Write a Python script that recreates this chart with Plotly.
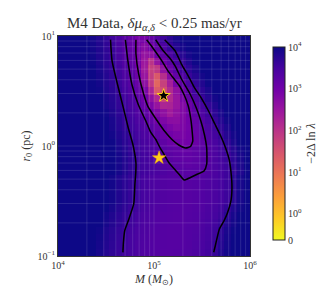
import numpy as np
import plotly.graph_objects as go

# ---------------- data ----------------
# log10(-2 Delta ln lambda) on a 30x30 grid, rows from top (r0 = 10^1) to bottom (r0 = 10^-1),
# columns from M = 10^4 to M = 10^6
log10_stat = [
    [4.2,4.2,4.2,4.2,4.2,3.92,3.8,3.68,3.56,3.43,3.3,3.12,2.94,2.94,3.14,3.35,3.57,3.73,3.89,4.04,4.2,4.2,4.2,4.2,4.2,4.2,4.2,4.2,4.2,4.2],
    [4.2,4.2,4.2,4.2,4.2,3.93,3.82,3.69,3.58,3.45,3.32,3.13,2.92,2.73,2.95,3.18,3.4,3.62,3.78,3.93,4.1,4.2,4.2,4.2,4.2,4.2,4.2,4.2,4.2,4.2],
    [4.2,4.2,4.2,4.2,4.2,3.95,3.83,3.71,3.59,3.46,3.34,3.15,2.89,2.55,2.62,3.0,3.23,3.43,3.6,3.77,3.92,4.08,4.2,4.2,4.2,4.2,4.2,4.2,4.2,4.2],
    [4.2,4.2,4.2,4.2,4.2,3.97,3.85,3.73,3.61,3.48,3.36,3.18,2.92,2.46,2.0,2.55,3.04,3.26,3.48,3.67,3.82,3.98,4.15,4.2,4.2,4.2,4.2,4.2,4.2,4.2],
    [4.2,4.2,4.2,4.2,4.2,4.0,3.88,3.76,3.65,3.52,3.39,3.23,3.0,2.41,1.81,1.93,2.6,3.08,3.3,3.53,3.71,3.87,4.05,4.2,4.2,4.2,4.2,4.2,4.2,4.2],
    [4.2,4.2,4.2,4.2,4.2,4.03,3.91,3.79,3.67,3.55,3.42,3.28,3.05,2.5,1.85,1.4,2.08,2.75,3.15,3.38,3.61,3.77,3.93,4.1,4.2,4.2,4.2,4.2,4.2,4.2],
    [4.2,4.2,4.2,4.2,4.2,4.06,3.94,3.82,3.7,3.58,3.44,3.31,3.1,2.65,1.92,1.2,1.78,2.35,2.91,3.21,3.45,3.66,3.82,3.98,4.13,4.2,4.2,4.2,4.2,4.2],
    [4.2,4.2,4.2,4.2,4.2,4.09,3.97,3.85,3.73,3.62,3.49,3.35,3.17,2.88,2.26,1.4,1.6,2.14,2.6,3.04,3.3,3.54,3.72,3.87,4.03,4.15,4.2,4.2,4.2,4.2],
    [4.2,4.2,4.2,4.2,4.2,4.12,4.0,3.89,3.77,3.65,3.53,3.4,3.25,3.03,2.63,2.18,1.75,2.13,2.5,2.88,3.16,3.4,3.62,3.78,3.93,4.1,4.2,4.2,4.2,4.2],
    [4.2,4.2,4.2,4.2,4.2,4.15,4.03,3.91,3.79,3.67,3.56,3.43,3.31,3.11,2.85,2.53,2.23,2.26,2.51,2.78,3.04,3.29,3.49,3.66,3.82,3.98,4.13,4.2,4.2,4.2],
    [4.2,4.2,4.2,4.2,4.2,4.18,4.07,3.96,3.84,3.72,3.6,3.48,3.37,3.23,3.05,2.84,2.62,2.4,2.6,2.8,2.99,3.2,3.39,3.56,3.72,3.88,4.05,4.15,4.2,4.2],
    [4.2,4.2,4.2,4.2,4.2,4.2,4.1,4.0,3.88,3.76,3.64,3.53,3.42,3.32,3.16,3.0,2.84,2.68,2.67,2.82,2.96,3.14,3.33,3.48,3.63,3.79,3.95,4.1,4.2,4.2],
    [4.2,4.2,4.2,4.2,4.2,4.2,4.12,4.01,3.89,3.77,3.66,3.55,3.46,3.37,3.27,3.12,2.98,2.87,2.76,2.85,2.95,3.1,3.27,3.41,3.55,3.7,3.86,4.02,4.15,4.2],
    [4.2,4.2,4.2,4.2,4.2,4.2,4.15,4.06,3.94,3.82,3.71,3.59,3.5,3.41,3.32,3.21,3.08,2.98,2.9,2.88,2.96,3.08,3.24,3.38,3.5,3.62,3.78,3.94,4.1,4.2],
    [4.2,4.2,4.2,4.2,4.2,4.2,4.2,4.1,3.98,3.86,3.74,3.62,3.54,3.46,3.38,3.3,3.19,3.08,2.99,2.93,2.97,3.07,3.21,3.35,3.45,3.56,3.7,3.87,4.03,4.15],
    [4.2,4.2,4.2,4.2,4.2,4.2,4.2,4.1,4.0,3.88,3.77,3.65,3.56,3.48,3.41,3.34,3.27,3.22,3.17,3.11,3.14,3.2,3.26,3.33,3.42,3.52,3.63,3.78,3.94,4.07],
    [4.2,4.2,4.2,4.2,4.2,4.2,4.2,4.15,4.03,3.92,3.8,3.68,3.58,3.51,3.44,3.37,3.3,3.26,3.21,3.17,3.17,3.22,3.27,3.32,3.41,3.5,3.58,3.73,3.88,4.04],
    [4.2,4.2,4.2,4.2,4.2,4.2,4.2,4.15,4.04,3.92,3.8,3.68,3.58,3.52,3.47,3.41,3.35,3.3,3.26,3.23,3.21,3.24,3.28,3.33,3.41,3.49,3.57,3.7,3.85,4.0],
    [4.2,4.2,4.2,4.2,4.2,4.2,4.2,4.15,4.03,3.92,3.8,3.68,3.58,3.53,3.49,3.44,3.39,3.35,3.3,3.28,3.25,3.27,3.29,3.35,3.42,3.49,3.56,3.67,3.83,3.98],
    [4.2,4.2,4.2,4.2,4.2,4.2,4.2,4.06,3.94,3.83,3.73,3.64,3.56,3.49,3.43,3.39,3.35,3.32,3.31,3.3,3.3,3.32,3.34,3.38,3.43,3.48,3.57,3.75,3.9,4.0],
    [4.2,4.2,4.2,4.2,4.2,4.2,4.2,4.06,3.94,3.83,3.73,3.64,3.56,3.49,3.43,3.39,3.35,3.32,3.31,3.3,3.3,3.32,3.34,3.38,3.43,3.48,3.57,3.75,3.9,4.0],
    [4.2,4.2,4.2,4.2,4.2,4.2,4.2,4.06,3.94,3.83,3.73,3.64,3.56,3.49,3.43,3.39,3.35,3.32,3.31,3.3,3.3,3.32,3.34,3.38,3.43,3.48,3.57,3.75,3.9,4.0],
    [4.2,4.2,4.2,4.2,4.2,4.2,4.2,4.06,3.94,3.83,3.73,3.64,3.56,3.49,3.43,3.39,3.35,3.32,3.31,3.3,3.3,3.32,3.34,3.38,3.43,3.48,3.57,3.75,3.9,4.0],
    [4.2,4.2,4.2,4.2,4.2,4.2,4.2,4.0,3.89,3.78,3.69,3.6,3.53,3.46,3.41,3.37,3.34,3.32,3.31,3.3,3.31,3.33,3.36,3.41,3.46,3.53,3.66,3.83,3.95,4.1],
    [4.2,4.2,4.2,4.2,4.2,4.2,4.06,3.94,3.83,3.73,3.64,3.56,3.49,3.43,3.39,3.35,3.32,3.31,3.3,3.3,3.32,3.34,3.38,3.43,3.48,3.57,3.75,3.9,4.0,4.2],
    [4.2,4.2,4.2,4.2,4.2,4.2,4.02,3.91,3.8,3.7,3.62,3.54,3.47,3.42,3.38,3.34,3.32,3.31,3.3,3.31,3.33,3.35,3.4,3.45,3.51,3.62,3.8,3.93,4.1,4.2],
    [4.2,4.2,4.2,4.2,4.2,4.08,3.96,3.85,3.75,3.66,3.58,3.5,3.44,3.4,3.36,3.33,3.31,3.3,3.3,3.32,3.34,3.37,3.42,3.47,3.55,3.72,3.87,3.98,4.2,4.2],
    [4.2,4.2,4.2,4.2,4.2,4.06,3.94,3.83,3.73,3.64,3.56,3.49,3.43,3.39,3.35,3.32,3.31,3.3,3.3,3.32,3.34,3.38,3.43,3.48,3.57,3.75,3.9,4.0,4.2,4.2],
    [4.2,4.2,4.2,4.2,4.2,4.03,3.92,3.81,3.71,3.62,3.55,3.48,3.42,3.38,3.34,3.32,3.31,3.3,3.3,3.32,3.35,3.39,3.44,3.5,3.6,3.78,3.92,4.05,4.2,4.2],
    [4.2,4.2,4.2,4.2,4.2,4.01,3.9,3.79,3.69,3.61,3.53,3.47,3.41,3.37,3.34,3.32,3.3,3.3,3.31,3.33,3.36,3.4,3.45,3.52,3.63,3.81,3.94,4.1,4.2,4.2],
]

# contour lines (log10 M, log10 r0)
outer_left_logM = [4.547, 4.563, 4.624, 4.676, 4.732, 4.779, 4.812, 4.810, 4.801, 4.789, 4.732, 4.695, 4.681, 4.676]
outer_left_logr = [0.967, 0.773, 0.545, 0.364, 0.164, 0.018, -0.155, -0.245, -0.345, -0.527, -0.679, -0.770, -0.882, -0.967]

outer_right_logM = [5.111, 5.164, 5.221, 5.286, 5.352, 5.418, 5.493, 5.568, 5.634, 5.695, 5.746, 5.784, 5.803, 5.812,
                    5.803, 5.765, 5.728, 5.681, 5.657, 5.638, 5.622]
outer_right_logr = [0.966, 0.918, 0.864, 0.745, 0.645, 0.536, 0.436, 0.318, 0.2, 0.091, -0.018, -0.127, -0.245, -0.373,
                    -0.491, -0.609, -0.682, -0.755, -0.836, -0.909, -0.966]

middle_logM = [4.702, 4.728, 4.770, 4.836, 4.915, 4.967, 5.019, 5.064, 5.108, 5.158, 5.221, 5.268, 5.315,
               5.380, 5.455, 5.521, 5.549, 5.549, 5.526, 5.488, 5.441, 5.376, 5.286, 5.221, 5.164, 5.096, 5.017]
middle_logr = [0.966, 0.773, 0.559, 0.377, 0.227, 0.123, 0.059, -0.018, -0.082, -0.155, -0.218, -0.264, -0.309,
               -0.286, -0.255, -0.227, -0.164, -0.018, 0.1, 0.227, 0.345, 0.473, 0.609, 0.727, 0.8, 0.866, 0.966]

inner_logM = [4.812, 4.812, 4.840, 4.892, 4.939, 4.986, 5.049, 5.111, 5.190, 5.258, 5.331, 5.380, 5.404, 5.399,
              5.385, 5.357, 5.315, 5.263, 5.202, 5.143, 5.089, 5.033, 4.977, 4.923]
inner_logr = [0.966, 0.836, 0.655, 0.473, 0.355, 0.291, 0.209, 0.134, 0.057, 0.009, -0.018, -0.005, 0.045, 0.118,
              0.236, 0.364, 0.464, 0.55, 0.618, 0.685, 0.764, 0.836, 0.905, 0.966]

best_fit_M, best_fit_r0 = [1.26e5], [2.87]
true_M, true_r0 = [1.13e5], [0.78]

x_ticks = [1e4, 1e5, 1e6]
x_ticktext = ["10<sup>4</sup>", "10<sup>5</sup>", "10<sup>6</sup>"]
y_ticks = [1e-1, 1e0, 1e1]
y_ticktext = ["10<sup>−1</sup>", "10<sup>0</sup>", "10<sup>1</sup>"]
cbar_ticktext = ["0", "10<sup>0</sup>", "10<sup>1</sup>", "10<sup>2</sup>", "10<sup>3</sup>", "10<sup>4</sup>"]
cbar_decades = [0, 1, 2, 3, 4]

# ---------------- figure ----------------
LIN = 0.63  # symlog: length of the linear [0, 1] segment in decades
n_rows, n_cols = len(log10_stat), len(log10_stat[0])
M_edges = np.logspace(4, 6, n_cols + 1)
r_edges = np.logspace(-1, 1, n_rows + 1)
cval = np.array(log10_stat)[::-1] + LIN
cmax = 4 + LIN

FONT = "Liberation Serif"
TXT = "#333333"

fig = go.Figure()
fig.add_trace(go.Heatmap(
    x=M_edges, y=r_edges, z=cval, zmin=0, zmax=cmax,
    colorscale="Plasma", reversescale=True, hoverinfo="skip",
    colorbar=dict(
        thickness=12, len=213, lenmode="pixels", x=1.066, xanchor="left",
        y=0.511, yanchor="middle", outlinewidth=1, outlinecolor="#222",
        tickvals=[0] + [d + LIN for d in cbar_decades], ticktext=cbar_ticktext,
        ticks="", tickfont=dict(family=FONT, size=10, color=TXT),
        title=dict(text="−2Δ ln <i>λ</i>", side="right", font=dict(family=FONT, size=12, color=TXT)),
    ),
))

# log-axis grid (major + minor) drawn over the mesh, below the contours
gx, gy = [], []
for dec in [4, 5]:
    for k in range(1, 10):
        if dec == 4 and k == 1:
            continue
        v = k * 10.0 ** dec
        gx += [v, v, None]
        gy += [1e-1, 1e1, None]
for dec in [-1, 0]:
    for k in range(1, 10):
        if dec == -1 and k == 1:
            continue
        v = k * 10.0 ** dec
        gx += [1e4, 1e6, None]
        gy += [v, v, None]
fig.add_trace(go.Scatter(x=gx, y=gy, mode="lines", hoverinfo="skip",
                         line=dict(color="rgba(255,255,255,0.16)", width=0.8)))

line_style = dict(color="black", width=1.5, shape="spline", smoothing=0.5)
for lm, lr in [(outer_left_logM, outer_left_logr), (outer_right_logM, outer_right_logr),
               (middle_logM, middle_logr), (inner_logM, inner_logr)]:
    fig.add_trace(go.Scatter(x=10 ** np.array(lm), y=10 ** np.array(lr), mode="lines",
                             line=line_style, hoverinfo="skip"))

fig.add_trace(go.Scatter(x=best_fit_M, y=best_fit_r0, mode="markers",
                         marker=dict(symbol="star", size=10, color="black", line=dict(color="#ffd21f", width=1))))
fig.add_trace(go.Scatter(x=true_M, y=true_r0, mode="markers",
                         marker=dict(symbol="star", size=10, color="#ffcc1a", line=dict(color="#f5b800", width=0.5))))

fig.update_layout(
    width=332, height=290, margin=dict(l=50, r=69, t=28, b=42),
    paper_bgcolor="white", plot_bgcolor="white", showlegend=False,
    font=dict(family=FONT, size=11, color=TXT),
    title=dict(text="M4 Data, <i>δμ</i><sub><i>α,δ</i></sub> &lt; 0.25 mas/yr",
               x=0.502, xref="paper", xanchor="center", y=0.948, yref="container", yanchor="middle",
               font=dict(family=FONT, size=15, color=TXT)),
)
fig.update_xaxes(type="log", range=[4, 6], tickvals=x_ticks, ticktext=x_ticktext, showgrid=False,
                 showline=True, mirror=True, linecolor="#333", linewidth=1, ticks="",
                 tickfont=dict(family=FONT, size=10, color=TXT),
                 title=dict(text="<i>M</i> (<i>M</i><sub>⊙</sub>)", standoff=4, font=dict(family=FONT, size=12, color=TXT)))
fig.update_yaxes(type="log", range=[-1, 1], tickvals=y_ticks, ticktext=y_ticktext, showgrid=False,
                 showline=True, mirror=True, linecolor="#333", linewidth=1, ticks="",
                 tickfont=dict(family=FONT, size=10, color=TXT),
                 title=dict(text="<i>r</i><sub>0</sub> (pc)", standoff=4, font=dict(family=FONT, size=12, color=TXT)))

fig.write_html("out.html")
